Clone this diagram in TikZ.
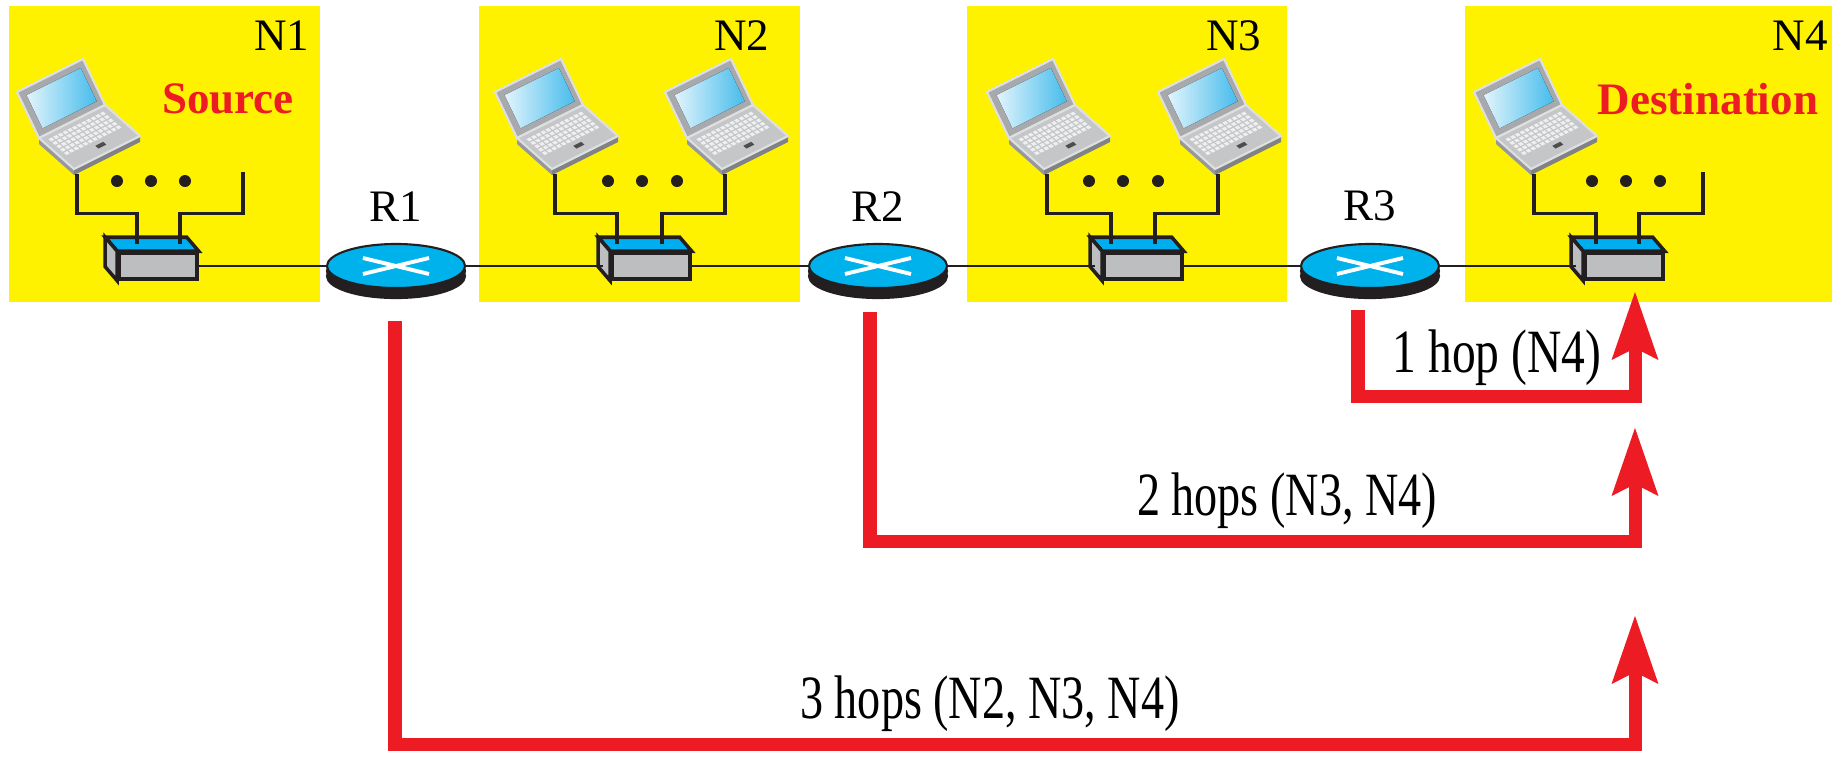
\documentclass[tikz,border=0pt]{standalone}
\usepackage{fontspec}
\setmainfont{Liberation Serif}
\usetikzlibrary{positioning,calc,shapes.geometric,shadows,arrows.meta}

\definecolor{netyellow}{RGB}{255,242,0}
\definecolor{hopred}{RGB}{237,28,36}
\definecolor{routerblue}{RGB}{0,178,235}
\definecolor{rimblack}{RGB}{35,31,32}
\definecolor{swgray}{RGB}{188,190,192}
\definecolor{swblue}{RGB}{0,174,239}
\definecolor{lidgray}{RGB}{167,169,172}
\definecolor{lidrimcol}{RGB}{222,223,224}
\definecolor{deckgray}{RGB}{196,198,200}
\definecolor{sidegray}{RGB}{150,152,155}
\definecolor{frontgray}{RGB}{128,130,133}
\definecolor{keywhite}{RGB}{238,239,240}
\definecolor{scrlight}{RGB}{226,244,252}
\definecolor{scrblue}{RGB}{70,188,236}

\tikzset{
  netbox/.style={fill=netyellow, inner sep=0pt, minimum height=2.96cm},
  netname/.style={font=\fontsize{12.8}{15}\selectfont, anchor=base},
  hostrole/.style={font=\fontsize{12.8}{15}\selectfont\bfseries, text=hopred, anchor=base},
  rname/.style={font=\fontsize{12.8}{15}\selectfont, inner sep=0pt},
  router/.style={ellipse, minimum width=1.38cm, minimum height=0.44cm, inner sep=0pt,
    fill=routerblue, draw=rimblack, line width=0.6pt,
    general shadow={shadow yshift=-0.05cm, fill=rimblack, draw=rimblack},
    general shadow={shadow yshift=-0.1cm, fill=rimblack, draw=rimblack},
    path picture={
      \draw[white, line width=1.1pt]
        ([shift={(-0.33cm,0.08cm)}]path picture bounding box.center) -- ([shift={(0.33cm,-0.08cm)}]path picture bounding box.center)
        ([shift={(-0.33cm,-0.08cm)}]path picture bounding box.center) -- ([shift={(0.33cm,0.08cm)}]path picture bounding box.center);
    }},
  swfront/.style={rectangle, minimum width=0.78cm, minimum height=0.26cm, inner sep=0pt,
    fill=swgray, draw=rimblack, line width=1pt},
  swedge/.style={draw=rimblack, line width=1pt},
  cable/.style={draw=rimblack, line width=0.9pt},
  link/.style={draw=rimblack, line width=0.8pt},
  hop/.style={draw=hopred, line width=0.13cm, -{Stealth[length=0.67cm, width=0.44cm, inset=0.1cm]}},
  hoplabel/.style={font=\fontsize{17.5}{21}\selectfont, anchor=base, xscale=0.75},
  lidrim/.style={draw=lidrimcol, line width=0.6pt},
  laptop/.pic={
    % lid with screen
    \draw[lidrim, fill=lidgray] (-35,-37) -- (31,-70) -- (9,-116) -- (-57,-83) -- cycle;
    \begin{scope}[shift={(-35,-37)}, x={(0.66cm,0.33cm)}, y={(-0.22cm,0.46cm)}]
      \fill[left color=scrlight, right color=scrblue] (0.1,0.14) -- (0.92,0.14) -- (0.92,0.86) -- (0.1,0.86) -- cycle;
    \end{scope}
    % base
    \fill[sidegray] (-35,-37) -- (0,-6) -- (0,0) -- (-35,-31) -- cycle;
    \fill[frontgray] (0,-6) -- (66,-39) -- (66,-33) -- (0,0) -- cycle;
    \draw[lidrim, fill=deckgray] (-35,-37) -- (31,-70) -- (66,-39) -- (0,-6) -- cycle;
    \begin{scope}[shift={(-35,-37)}, x={(0.66cm,0.33cm)}, y={(0.35cm,-0.31cm)}]
      \foreach \ki in {0,...,11}
        \foreach \kj in {0,...,4}
          \fill[keywhite] (0.08+0.071*\ki,0.12+0.11*\kj) -- ++(0.05,0) -- ++(0,0.075) -- ++(-0.05,0) -- cycle;
      \fill[rimblack!80] (0.46,0.74) -- ++(0.12,0) -- ++(0,0.09) -- ++(-0.12,0) -- cycle;
    \end{scope}
    \coordinate (-port) at (3,-1);
  }
}

% top and side faces of a switch
\newcommand\swfaces[1]{%
  \draw[swedge, fill=swblue] (#1.north west) -- ++(-12,-14) -- ($(#1.north east)+(-12,-14)$) -- (#1.north east) -- cycle;
  \draw[swedge, fill=swgray] (#1.north west) -- ++(-12,-14) -- ($(#1.south west)+(-12,-14)$) -- (#1.south west) -- cycle;
}

\begin{document}
\begin{tikzpicture}[x=0.01cm, y=-0.01cm]
\useasboundingbox[fill=white] (0,0) rectangle (1844,757);

% networks
\node[netbox, minimum width=3.11cm] (n1) at (164.5,154) {};
\node[netbox, minimum width=3.21cm] (n2) at (639.5,154) {};
\node[netbox, minimum width=3.20cm] (n3) at (1127,154) {};
\node[netbox, minimum width=3.67cm] (n4) at (1648.5,154) {};

\node[netname] (n1name) at (282,50) {N1};
\node[netname] (n2name) at (742,50) {N2};
\node[netname] (n3name) at (1234,50) {N3};
\node[netname] (n4name) at (1800,50) {N4};

\node[hostrole] (src) at (228,113) {Source};
\node[hostrole] (dst) at (1708,114) {Destination};

% hosts
\pic (l11) at (74,175) {laptop};
\pic (l21) at (552,175) {laptop};
\pic (l22) at (722,175) {laptop};
\pic (l31) at (1044,175) {laptop};
\pic (l32) at (1215,175) {laptop};
\pic (l41) at (1531,175) {laptop};
\coordinate (c1) at (243,172);
\coordinate (c4) at (1703,172);

\foreach \x in {117,151,185,608,642,677,1089,1123,1158,1592,1626,1660}
  \fill[rimblack] (\x,181) circle[radius=0.06cm];

% switches
\node[swfront] (s1) at (158,266) {};
\node[swfront] (s2) at (651,266) {};
\node[swfront] (s3) at (1143,266) {};
\node[swfront] (s4) at (1624,266) {};
\swfaces{s1}
\swfaces{s2}
\swfaces{s3}
\swfaces{s4}

% routers
\node[router] (r1) at (396,266) {};
\node[router] (r2) at (878,266) {};
\node[router] (r3) at (1370,266) {};
\node[rname, above=0.21cm of r1] (r1name) {R1};
\node[rname, above=0.21cm of r2] (r2name) {R2};
\node[rname, above=0.21cm of r3] (r3name) {R3};

% links
\draw[link] (s1.east) -- (r1.west);
\draw[link] (r1.east) -- ([xshift=-0.07cm]s2.west);
\draw[link] (s2.east) -- (r2.west);
\draw[link] (r2.east) -- ([xshift=-0.07cm]s3.west);
\draw[link] (s3.east) -- (r3.west);
\draw[link] (r3.east) -- ([xshift=-0.07cm]s4.west);

% cables to the switches
\draw[cable] (l11-port) |- ($(s1.north)+(-21,-38)$) -- ($(s1.north)+(-21,-7)$);
\draw[cable] (c1) |- ($(s1.north)+(22,-38)$) -- ($(s1.north)+(22,-7)$);
\draw[cable] (l21-port) |- ($(s2.north)+(-34,-38)$) -- ($(s2.north)+(-34,-7)$);
\draw[cable] (l22-port) |- ($(s2.north)+(11,-38)$) -- ($(s2.north)+(11,-7)$);
\draw[cable] (l31-port) |- ($(s3.north)+(-32,-38)$) -- ($(s3.north)+(-32,-7)$);
\draw[cable] (l32-port) |- ($(s3.north)+(12,-38)$) -- ($(s3.north)+(12,-7)$);
\draw[cable] (l41-port) |- ($(s4.north)+(-28,-38)$) -- ($(s4.north)+(-28,-7)$);
\draw[cable] (c4) |- ($(s4.north)+(15,-38)$) -- ($(s4.north)+(15,-7)$);

% hop counts
\coordinate (d1) at (1635,291);
\coordinate (d2) at (1635,427);
\coordinate (d3) at (1635,615);
\draw[hop] ([xshift=-0.12cm,yshift=-0.21cm]r3.south) |- ($(d1)+(0,105)$) -- (d1);
\draw[hop] ([xshift=-0.08cm,yshift=-0.23cm]r2.south) |- ($(d2)+(0,114)$) -- (d2);
\draw[hop] ([xshift=-0.01cm,yshift=-0.32cm]r1.south) |- ($(d3)+(0,129)$) -- (d3);

\node[hoplabel, xscale=1.03] (hop1) at (1497,372) {1 hop (N4)};
\node[hoplabel] (hop2) at (1287,515) {2 hops (N3, N4)};
\node[hoplabel] (hop3) at (990,718) {3 hops (N2, N3, N4)};
\end{tikzpicture}
\end{document}
